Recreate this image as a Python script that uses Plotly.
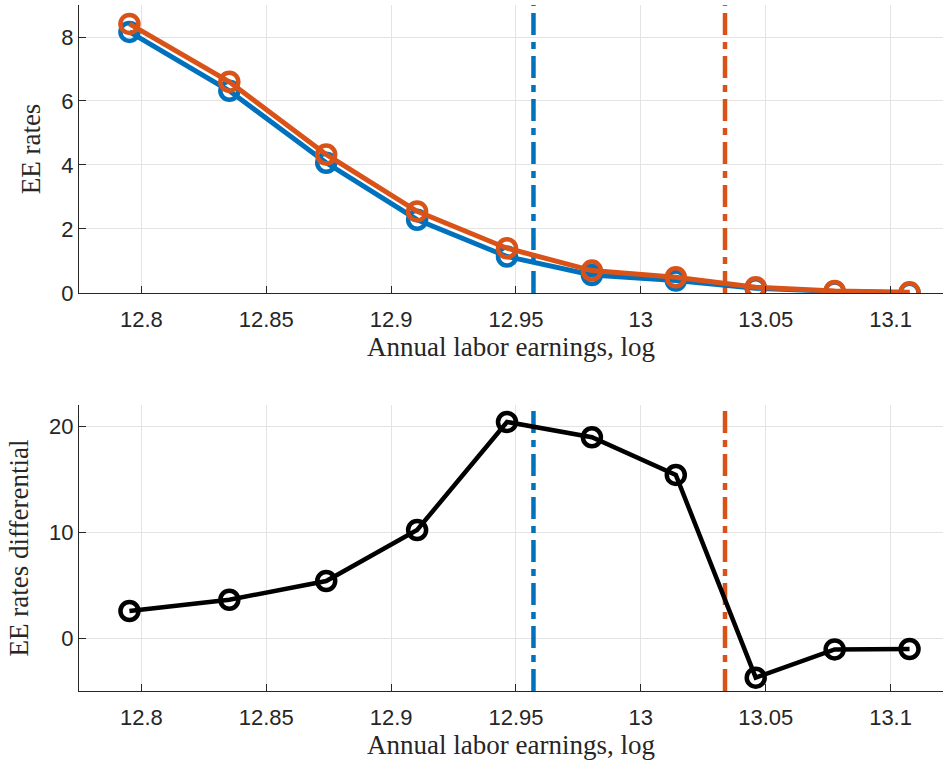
import plotly.graph_objects as go
from plotly.subplots import make_subplots

# Data
earnings_log = [12.7952, 12.8352, 12.874, 12.9104, 12.9464, 12.9804, 13.014, 13.046, 13.0776, 13.1076]
ee_rates_blue = [8.16, 6.32, 4.07, 2.29, 1.14, 0.56, 0.39, 0.15, 0.05, 0.01]
ee_rates_orange = [8.41, 6.60, 4.33, 2.55, 1.40, 0.70, 0.49, 0.18, 0.06, 0.02]
ee_diff = [2.55, 3.62, 5.38, 10.2, 20.4, 18.96, 15.4, -3.74, -1.07, -1.03]
threshold_blue = 12.957
threshold_orange = 13.0337
x_ticks = [12.8, 12.85, 12.9, 12.95, 13.0, 13.05, 13.1]
x_tick_labels = ["12.8", "12.85", "12.9", "12.95", "13", "13.05", "13.1"]

BLUE = "#0072BD"
ORANGE = "#D95319"
AX = "#262626"
GRID = "#e3e3e3"

fig = make_subplots(rows=2, cols=1, vertical_spacing=0.1633)

dash = "22px,7px,7px,7px"

top_range = [0, 9]
bot_range = [-5, 22]

MS = 18
MW = 4.5

# top vertical lines
fig.add_trace(go.Scatter(x=[threshold_blue, threshold_blue], y=top_range, mode="lines",
                         line=dict(color=BLUE, width=4.5, dash=dash), showlegend=False), row=1, col=1)
fig.add_trace(go.Scatter(x=[threshold_orange, threshold_orange], y=top_range, mode="lines",
                         line=dict(color=ORANGE, width=4.5, dash=dash), showlegend=False), row=1, col=1)

fig.add_trace(go.Scatter(x=earnings_log, y=ee_rates_blue, mode="lines+markers",
                         line=dict(color=BLUE, width=5),
                         marker=dict(symbol="circle-open", size=MS, color=BLUE, line=dict(width=MW, color=BLUE)),
                         showlegend=False), row=1, col=1)
fig.add_trace(go.Scatter(x=earnings_log, y=ee_rates_orange, mode="lines+markers",
                         line=dict(color=ORANGE, width=5),
                         marker=dict(symbol="circle-open", size=MS, color=ORANGE, line=dict(width=MW, color=ORANGE)),
                         showlegend=False), row=1, col=1)

# bottom
fig.add_trace(go.Scatter(x=[threshold_blue, threshold_blue], y=bot_range, mode="lines",
                         line=dict(color=BLUE, width=4.5, dash=dash), showlegend=False), row=2, col=1)
fig.add_trace(go.Scatter(x=[threshold_orange, threshold_orange], y=bot_range, mode="lines",
                         line=dict(color=ORANGE, width=4.5, dash=dash), showlegend=False), row=2, col=1)
fig.add_trace(go.Scatter(x=earnings_log, y=ee_diff, mode="lines+markers",
                         line=dict(color="black", width=4.5),
                         marker=dict(symbol="circle-open", size=MS, color="black", line=dict(width=MW, color="black")),
                         showlegend=False), row=2, col=1)

tickfont = dict(family="Liberation Sans, Arial, sans-serif", size=22, color=AX)
titlefont = dict(family="Liberation Serif, DejaVu Serif, serif", size=27, color=AX)

xcommon = dict(range=[12.775, 13.121], tickvals=x_ticks, ticktext=x_tick_labels,
               showgrid=True, gridcolor=GRID, gridwidth=1, zeroline=False,
               showline=True, linecolor=AX, linewidth=1.3, ticks="inside", ticklen=7,
               tickcolor=AX, tickwidth=1.3, tickfont=tickfont, mirror=False, automargin=False,
               ticklabelstandoff=6)
fig.update_xaxes(**xcommon, title=dict(text="Annual labor earnings, log", font=titlefont, standoff=2), row=1, col=1)
fig.update_xaxes(**xcommon, title=dict(text="Annual labor earnings, log", font=titlefont, standoff=2), row=2, col=1)

ycommon = dict(showgrid=True, gridcolor=GRID, gridwidth=1, zeroline=False,
               showline=True, linecolor=AX, linewidth=1.3, ticks="inside", ticklen=7,
               tickcolor=AX, tickwidth=1.3, tickfont=tickfont, automargin=False)
fig.update_yaxes(**ycommon, range=top_range, tickvals=[0, 2, 4, 6, 8],
                 title=dict(text="EE rates", font=titlefont, standoff=12), row=1, col=1)
fig.update_yaxes(**ycommon, range=bot_range, tickvals=[0, 10, 20],
                 title=dict(text="EE rates differential", font=titlefont, standoff=12), row=2, col=1)

fig.update_layout(width=943, height=761, margin=dict(l=79, r=0, t=5, b=70),
                  plot_bgcolor="white", paper_bgcolor="white")
fig.update_layout(yaxis=dict(domain=[0.5802, 1.0]), yaxis2=dict(domain=[0.0, 0.4169]))

fig.write_html("out.html", config={"displayModeBar": False},
               post_script="document.body.style.margin='0';document.body.style.overflow='hidden';")
